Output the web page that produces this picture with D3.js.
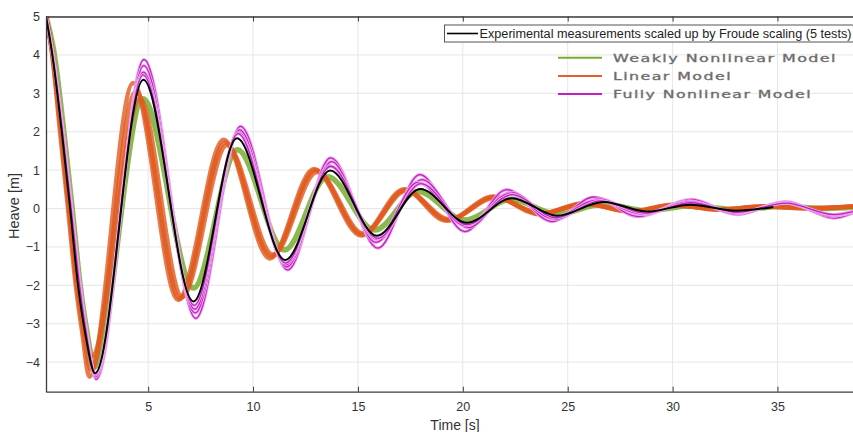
<!DOCTYPE html>
<html>
<head>
<meta charset="utf-8">
<script src="https://cdn.jsdelivr.net/npm/d3@7"></script>
<style>
  body { margin: 0; background: #fff; }
  svg { display: block; font-family: "Liberation Sans", Arial, sans-serif; }
</style>
</head>
<body>
<div id="chart"></div>
<script>
// heave records, [time s, heave m] (peaks, troughs, a few crossings)
const experimental = [[0.13,5],[0.43,4],[0.88,2],[1.28,0],[1.66,-2],[2.0,-3.25],[2.47,-4.29],[4.77,3.35],[7.16,-2.42],[9.23,1.83],[11.53,-1.34],[13.68,0.99],[15.9,-0.71],[17.97,0.51],[20.2,-0.37],[22.34,0.27],[24.5,-0.19],[26.7,0.17],[28.8,-0.08],[30.85,0.1],[33.05,-0.06],[34.8,0.04]];

const weaklyNonlinear = [[0.13,5],[0.5,4.1],[0.98,2],[1.38,0],[1.76,-2],[2.08,-3.2],[2.45,-4.12],[4.75,2.86],[7.16,-2.07],[9.25,1.53],[11.5,-1.08],[13.55,0.83],[15.8,-0.56],[17.85,0.44],[20.1,-0.3],[22.3,0.24],[24.5,-0.15],[26.7,0.12],[28.8,-0.06],[30.9,0.07],[33.1,-0.03],[35.2,0.05],[37.4,0.0],[38.6,0.03]];

const linearA = [[0.13,5],[0.38,4.2],[0.8,2],[1.18,0],[1.55,-2],[1.85,-3.2],[2.2,-4.38],[4.28,3.27],[6.43,-2.38],[8.59,1.79],[10.8,-1.3],[12.9,1.03],[15.15,-0.7],[17.2,0.5],[19.2,-0.32],[21.45,0.31],[23.65,-0.15],[25.75,0.14],[27.95,-0.08],[30.0,0.1],[32.2,-0.03],[34.3,0.06],[36.5,0.0],[38.6,0.05]];
const linearB = [[0.13,5],[0.42,4.1],[0.88,2],[1.26,0],[1.65,-2],[1.95,-3.1],[2.3,-3.85],[4.6,2.85],[6.62,-2.3],[8.75,1.65],[10.95,-1.2],[13.05,0.95],[15.25,-0.65],[17.3,0.46],[19.35,-0.28],[21.55,0.28],[23.75,-0.13],[25.85,0.12],[28.05,-0.07],[30.1,0.08],[32.3,-0.02],[34.4,0.05],[36.6,0.01],[38.6,0.05]];
const linearC = [[0.13,5],[0.4,4.15],[0.84,2],[1.22,0],[1.6,-2],[1.9,-3.15],[2.27,-4.2],[4.42,3.05],[6.52,-2.35],[8.66,1.72],[10.87,-1.25],[12.97,1.0],[15.2,-0.68],[17.25,0.48],[19.28,-0.3],[21.5,0.3],[23.7,-0.14],[25.8,0.13],[28.0,-0.08],[30.05,0.09],[32.25,-0.03],[34.35,0.05],[36.55,0.0],[38.6,0.05]];

const fullyA = [[0.13,5],[0.47,4],[0.95,2],[1.36,0],[1.76,-2],[2.1,-3.3],[2.52,-4.45],[4.8,3.88],[7.27,-2.86],[9.4,2.14],[11.65,-1.6],[13.7,1.32],[15.95,-1.03],[17.95,0.88],[20.1,-0.6],[22.1,0.49],[24.25,-0.34],[26.25,0.3],[28.35,-0.21],[30.9,0.24],[33.1,-0.16],[35.4,0.18],[37.7,-0.25],[38.6,-0.12]];
const fullyB = [[0.13,5],[0.46,4],[0.94,2],[1.35,0],[1.75,-2],[2.09,-3.3],[2.5,-4.38],[4.79,3.72],[7.24,-2.72],[9.35,2.05],[11.6,-1.52],[13.75,1.22],[15.85,-0.88],[18.05,0.75],[20.25,-0.5],[22.3,0.42],[24.4,-0.28],[26.5,0.25],[28.6,-0.16],[30.8,0.2],[33.0,-0.14],[35.3,0.16],[37.6,-0.2],[38.6,-0.1]];
const fullyC = [[0.13,5],[0.45,4],[0.92,2],[1.33,0],[1.73,-2],[2.07,-3.3],[2.48,-4.33],[4.77,3.55],[7.22,-2.62],[9.3,1.98],[11.58,-1.46],[13.65,1.12],[15.9,-0.8],[17.85,0.68],[20.15,-0.45],[22.2,0.38],[24.3,-0.25],[26.4,0.22],[28.5,-0.14],[30.85,0.18],[33.05,-0.12],[35.35,0.15],[37.65,-0.18],[38.6,-0.08]];
const fullyD = [[0.13,5],[0.45,4],[0.92,2],[1.33,0],[1.73,-2],[2.07,-3.3],[2.48,-4.3],[4.76,3.48],[7.2,-2.52],[9.28,1.95],[11.55,-1.42],[13.7,1.1],[15.95,-0.78],[18.0,0.65],[20.2,-0.42],[22.35,0.36],[24.45,-0.24],[26.55,0.2],[28.7,-0.12],[30.9,0.15],[33.1,-0.1],[35.4,0.14],[37.7,-0.16],[38.6,-0.08]];

const xTicks = [5, 10, 15, 20, 25, 30, 35];
const yTicks = [-4, -3, -2, -1, 0, 1, 2, 3, 4, 5];
const modelLegend = ["Weakly Nonlinear Model", "Linear Model", "Fully Nonlinear Model"];
const expLegend = "Experimental measurements scaled up by Froude scaling (5 tests)";

const W = 853, H = 432;
const plot = {left: 46, right: 853, top: 16.5, bottom: 391.7};

const svg = d3.select("#chart").append("svg")
    .attr("width", W)
    .attr("height", H);

const x = d3.scaleLinear().domain([0.13, 38.6]).range([plot.left, plot.right]);
const y = d3.scaleLinear().domain([-4.77, 5]).range([plot.bottom, plot.top]);

// grid
svg.append("g").selectAll("line").data(xTicks).enter().append("line")
    .attr("x1", d => x(d)).attr("x2", d => x(d))
    .attr("y1", plot.top).attr("y2", plot.bottom)
    .attr("stroke", "#e6e6e6").attr("stroke-width", 1);
svg.append("g").selectAll("line").data(yTicks).enter().append("line")
    .attr("x1", plot.left).attr("x2", plot.right)
    .attr("y1", d => y(d)).attr("y2", d => y(d))
    .attr("stroke", "#e6e6e6").attr("stroke-width", 1);

const line = d3.line()
    .x(d => x(d[0]))
    .y(d => y(d[1]))
    .curve(d3.curveMonotoneX);

svg.append("clipPath").attr("id", "clip")
    .append("rect")
    .attr("x", plot.left).attr("y", plot.top - 2)
    .attr("width", plot.right - plot.left).attr("height", plot.bottom - plot.top + 2);

const curves = svg.append("g").attr("clip-path", "url(#clip)");

// weakly nonlinear, a thick green band
curves.append("path").datum(weaklyNonlinear)
    .attr("d", line).attr("fill", "none")
    .attr("stroke", "#77ac30").attr("stroke-width", 5.5).attr("stroke-opacity", 0.85);

// linear model tests
[linearB, linearC, linearA].forEach(s => {
    curves.append("path").datum(s)
        .attr("d", line).attr("fill", "none")
        .attr("stroke", "#e05a1e").attr("stroke-width", 4.5).attr("stroke-opacity", 0.8);
});

// fully nonlinear tests
[fullyA, fullyB, fullyC, fullyD].forEach(s => {
    curves.append("path").datum(s)
        .attr("d", line).attr("fill", "none")
        .attr("stroke", "#e9a6e9").attr("stroke-width", 3.2);
    curves.append("path").datum(s)
        .attr("d", line).attr("fill", "none")
        .attr("stroke", "#c21fc2").attr("stroke-width", 1.3);
});

// experimental mean
curves.append("path").datum(experimental)
    .attr("d", line).attr("fill", "none")
    .attr("stroke", "#000").attr("stroke-width", 2);

// axes
const axisColor = "#3a3a3a";
const gx = svg.append("g")
    .attr("transform", `translate(0,${plot.bottom})`)
    .call(d3.axisBottom(x).tickValues(xTicks).tickSizeInner(-5).tickSizeOuter(0).tickPadding(10.5));
const gxTop = svg.append("g")
    .attr("transform", `translate(0,${plot.top})`)
    .call(d3.axisTop(x).tickValues(xTicks).tickSizeInner(-5).tickSizeOuter(0).tickFormat(""));
const gy = svg.append("g")
    .attr("transform", `translate(${plot.left},0)`)
    .call(d3.axisLeft(y).tickValues(yTicks).tickSizeInner(0).tickSizeOuter(0).tickPadding(6));

[gx, gxTop, gy].forEach(g => {
    g.select(".domain").attr("stroke", axisColor).attr("stroke-width", 1.3);
    g.selectAll(".tick line").attr("stroke", axisColor);
    g.selectAll(".tick text")
        .attr("fill", "#333")
        .attr("font-size", 12.5)
        .attr("font-family", "'Liberation Sans', Arial, sans-serif");
});

svg.append("text")
    .attr("x", 455).attr("y", 430)
    .attr("text-anchor", "middle")
    .attr("fill", "#333").attr("font-size", 14)
    .text("Time [s]");

svg.append("text")
    .attr("transform", "translate(19,206) rotate(-90)")
    .attr("text-anchor", "middle")
    .attr("fill", "#333").attr("font-size", 14.5)
    .text("Heave [m]");

// legend for the experiment, in a box that runs off the right edge
const leg1 = svg.append("g");
leg1.append("rect")
    .attr("x", 444.5).attr("y", 25).attr("width", 420).attr("height", 17)
    .attr("fill", "#fff").attr("stroke", "#555").attr("stroke-width", 1);
leg1.append("line")
    .attr("x1", 447).attr("x2", 478).attr("y1", 33.5).attr("y2", 33.5)
    .attr("stroke", "#000").attr("stroke-width", 1.6);
leg1.append("text")
    .attr("x", 479.5).attr("y", 38)
    .attr("fill", "#222").attr("font-size", 12.5)
    .attr("textLength", 372).attr("lengthAdjust", "spacingAndGlyphs")
    .text(expLegend);

// legend for the models, wide lettering
const modelColors = ["#77ac30", "#e0622a", "#c21fc2"];
const modelWidths = [224, 119, 199];
const leg2 = svg.append("g");
modelLegend.forEach((name, i) => {
    const ly = 57.7 + i * 18.2;
    leg2.append("line")
        .attr("x1", 558).attr("x2", 602).attr("y1", ly).attr("y2", ly)
        .attr("stroke", modelColors[i]).attr("stroke-width", 2);
    leg2.append("text")
        .attr("x", 613).attr("y", ly + 4)
        .attr("fill", "#666").attr("font-size", 11)
        .attr("stroke", "#777").attr("stroke-width", 0.35)
        .attr("letter-spacing", 1)
        .attr("font-family", "'DejaVu Sans', sans-serif")
        .attr("textLength", modelWidths[i]).attr("lengthAdjust", "spacingAndGlyphs")
        .text(name);
});
</script>
</body>
</html>
